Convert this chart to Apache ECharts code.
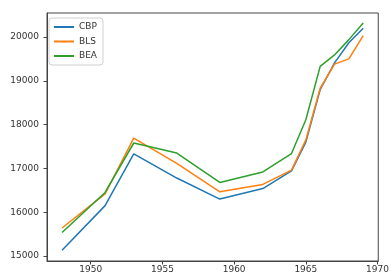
<!DOCTYPE html>
<html>
<head>
<meta charset="utf-8">
<script src="https://cdn.jsdelivr.net/npm/echarts@6/dist/echarts.min.js"></script>
<style>
  html, body { margin: 0; padding: 0; background: #fff; }
  #chart { width: 392px; height: 275px; }
</style>
</head>
<body>
<div id="chart"></div>
<script>
// データ
const years = [1948, 1951, 1953, 1956, 1959, 1962, 1964, 1965, 1966, 1967, 1968, 1969]
const cbp = [15130, 16150, 17330, 16780, 16300, 16540, 16945, 17600, 18800, 19410, 19870, 20200]
const bls = [15640, 16420, 17690, 17115, 16465, 16635, 16960, 17650, 18830, 19380, 19500, 20030]
const bea = [15535, 16450, 17580, 17350, 16680, 16920, 17340, 18110, 19330, 19590, 19940, 20320]
const xTicks = [1950, 1955, 1960, 1965, 1970]
const yTicks = [15000, 16000, 17000, 18000, 19000, 20000]

const pair = (vals) => years.map((y, i) => [y, vals[i]])

const chart = echarts.init(document.getElementById('chart'))
const axisColor = '#444'
const labelStyle = {
  color: '#333',
  fontSize: 9,
  fontFamily: 'DejaVu Sans',
}

const option = {
  animation: false,
  grid: {
    left: 47,
    right: 11,
    top: 13,
    bottom: 14,
    show: true,
    borderColor: axisColor,
    borderWidth: 1,
  },
  legend: {
    orient: 'vertical',
    left: 49,
    top: 18,
    padding: [4, 6, 4, 5],
    itemWidth: 20,
    itemHeight: 2,
    itemGap: 4.5,
    icon: 'rect',
    borderColor: '#d0d0d0',
    borderWidth: 1,
    borderRadius: 3,
    textStyle: { ...labelStyle, fontSize: 9, lineHeight: 10 },
    data: ['CBP', 'BLS', 'BEA'],
  },
  xAxis: {
    type: 'value',
    min: 1946.95,
    max: 1970.05,
    splitLine: { show: false },
    axisLine: { show: true, lineStyle: { color: axisColor } },
    axisTick: { show: true, length: 3.5, customValues: xTicks, lineStyle: { color: axisColor } },
    axisLabel: { ...labelStyle, margin: 4, customValues: xTicks, formatter: (v) => String(v) },
  },
  yAxis: {
    type: 'value',
    min: 14886,
    max: 20548,
    splitLine: { show: false },
    axisLine: { show: true, lineStyle: { color: axisColor } },
    axisTick: { show: true, length: 3.5, customValues: yTicks, lineStyle: { color: axisColor } },
    axisLabel: { ...labelStyle, margin: 8, customValues: yTicks, formatter: (v) => String(v) },
  },
  series: [
    { name: 'CBP', type: 'line', data: pair(cbp), symbol: 'none', color: '#1f77b4', lineStyle: { width: 1.5 } },
    { name: 'BLS', type: 'line', data: pair(bls), symbol: 'none', color: '#ff7f0e', lineStyle: { width: 1.5 } },
    { name: 'BEA', type: 'line', data: pair(bea), symbol: 'none', color: '#2ca02c', lineStyle: { width: 1.5 } },
  ],
}
chart.setOption(option)
</script>
</body>
</html>
